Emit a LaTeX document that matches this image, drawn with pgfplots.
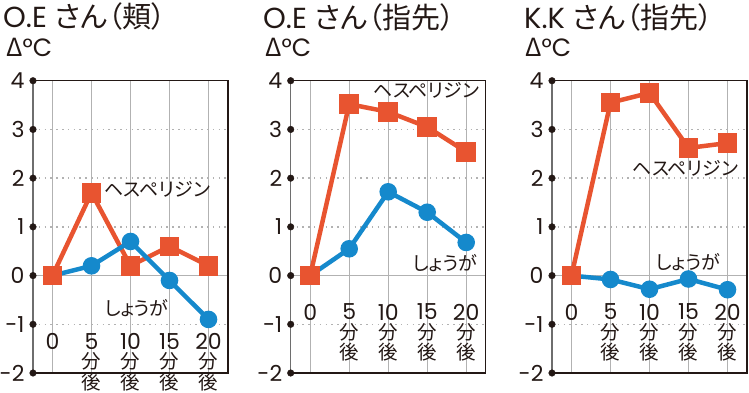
\documentclass[border=0pt]{standalone}
\usepackage{fontspec}
\setmainfont{Poppins}
\newfontfamily\jp[RawFeature=+palt]{Noto Sans CJK JP}
\usepackage{pgfplots}
\pgfplotsset{compat=1.18}
\definecolor{hred}{RGB}{232,84,48}
\definecolor{sblue}{RGB}{21,137,204}
\definecolor{txt}{RGB}{35,24,21}
\definecolor{grd}{RGB}{178,178,178}
\definecolor{lft}{RGB}{110,110,110}

\tikzset{
  lab/.style={font=\fontsize{19}{19}\selectfont\jp, text=txt, inner sep=0pt},
  xl/.style={font=\fontsize{22}{20}\selectfont, text=txt, inner sep=0pt, anchor=north},
  xk/.style={font=\fontsize{19.5}{19.5}\selectfont\jp, text=txt, inner sep=0pt, anchor=north},
}
\pgfplotsset{
  panel/.style={
    scale only axis, width=195pt, height=292.3pt,
    xmin=-0.5, xmax=4.5, ymin=-2, ymax=4,
    clip=false,
    axis line style={draw=none},
    tick style={draw=none},
    xtick={0,1,2,3,4}, xticklabels={},
    ytick={-2,-1,0,1,2,3,4},
    yticklabels={-2,-1,0,1,2,3,4},
    yticklabel style={font=\fontsize{22}{22}\selectfont, text=txt, anchor=east, xshift=-5pt},
    xmajorgrids, ymajorgrids,
    x grid style={grd, line width=1.2pt},
    y grid style={grd, line width=1.5pt, dash pattern=on 1.5pt off 4.3pt},
  },
  redser/.style={hred, line width=4.5pt, mark=square*, mark size=7.5pt, mark options={solid}},
  blueser/.style={sblue, line width=4.5pt, mark=*, mark size=6.5pt, mark options={solid}},
  tdot/.style={only marks, mark=*, mark size=3.3pt, txt},
}

\newcommand{\frameaxis}{%
  \draw[grd, line width=1.5pt] (axis cs:-0.5,0) -- (axis cs:4.5,0);
  \draw[txt, line width=1.2pt] (rel axis cs:0,0) -- (rel axis cs:1,0) -- (rel axis cs:1,1) -- (rel axis cs:0,1);
  \draw[lft, line width=1.4pt] (rel axis cs:0,0) -- (rel axis cs:0,1);
  \addplot[tdot] coordinates {(-0.5,-2) (-0.5,-1) (-0.5,0) (-0.5,1) (-0.5,2) (-0.5,3) (-0.5,4)};
}
% #1 = x, #2 = minutes, #3 = top of digits (y value)
\newcommand{\xone}[3]{%
  \node[xl] at (axis cs:#1,#3) {#2};
  \node[xk, yshift=-19.5pt] at (axis cs:#1,#3) {分};
  \node[xk, yshift=-39.5pt] at (axis cs:#1,#3) {後};
}
\newcommand{\xlabs}[1]{%
  \node[xl] at (axis cs:0,#1) {0};
  \xone{1}{5}{#1}
  \xone{2}{10}{#1}
  \xone{3}{15}{#1}
  \xone{4}{20}{#1}
}

\begin{document}
\begin{tikzpicture}
\useasboundingbox (0pt,0pt) rectangle (749pt,-392pt);

% titles
\node[anchor=west, inner sep=0pt, text=txt, font=\fontsize{29}{29}\selectfont] at (3pt,-16pt) {O.E {\jp さん（頬）}};
\node[anchor=west, inner sep=0pt, text=txt, font=\fontsize{29}{29}\selectfont] at (263pt,-17pt) {O.E {\jp さん（指先）}};
\node[anchor=west, inner sep=0pt, text=txt, font=\fontsize{29}{29}\selectfont] at (524pt,-17pt) {K.K {\jp さん（指先）}};
\node[anchor=west, inner sep=0pt, text=txt, font=\fontsize{25}{25}\selectfont] at (6pt,-47pt) {{\jp Δ}°C};
\node[anchor=west, inner sep=0pt, text=txt, font=\fontsize{25}{25}\selectfont] at (265pt,-47pt) {{\jp Δ}°C};
\node[anchor=west, inner sep=0pt, text=txt, font=\fontsize{25}{25}\selectfont] at (525pt,-47pt) {{\jp Δ}°C};

% panel 1
\begin{axis}[panel, at={(33pt,-373pt)}, anchor=south west]
\frameaxis
\addplot[redser] coordinates {(0,0) (1,1.7) (2,0.2) (3,0.6) (4,0.2)};
\addplot[blueser] coordinates {(0,0) (1,0.2) (2,0.7) (3,-0.1) (4,-0.9)};
\addplot[redser, only marks] coordinates {(0,0)};
\node[lab, anchor=west] at (axis cs:1.33,1.76) {ヘスペリジン};
\node[lab] at (axis cs:2.16,-0.66) {しょうが};
\xlabs{-1.18}
\end{axis}

% panel 2
\begin{axis}[panel, at={(290.7pt,-373pt)}, anchor=south west]
\frameaxis
\addplot[redser] coordinates {(0,0) (1,3.52) (2,3.36) (3,3.05) (4,2.54)};
\addplot[blueser] coordinates {(0,0) (1,0.55) (2,1.72) (3,1.3) (4,0.68)};
\addplot[redser, only marks] coordinates {(0,0)};
\node[lab] at (axis cs:2.98,3.81) {ヘスペリジン};
\node[lab] at (axis cs:3.46,0.26) {しょうが};
\xlabs{-0.58}
\end{axis}

% panel 3
\begin{axis}[panel, at={(552pt,-373pt)}, anchor=south west]
\frameaxis
\addplot[redser] coordinates {(0,0) (1,3.55) (2,3.75) (3,2.62) (4,2.72)};
\addplot[blueser] coordinates {(0,0) (1,-0.08) (2,-0.28) (3,-0.07) (4,-0.29)};
\addplot[redser, only marks] coordinates {(0,0)};
\node[lab] at (axis cs:2.92,2.21) {ヘスペリジン};
\node[lab] at (axis cs:2.99,0.28) {しょうが};
\xlabs{-0.58}
\end{axis}
\end{tikzpicture}
\end{document}
